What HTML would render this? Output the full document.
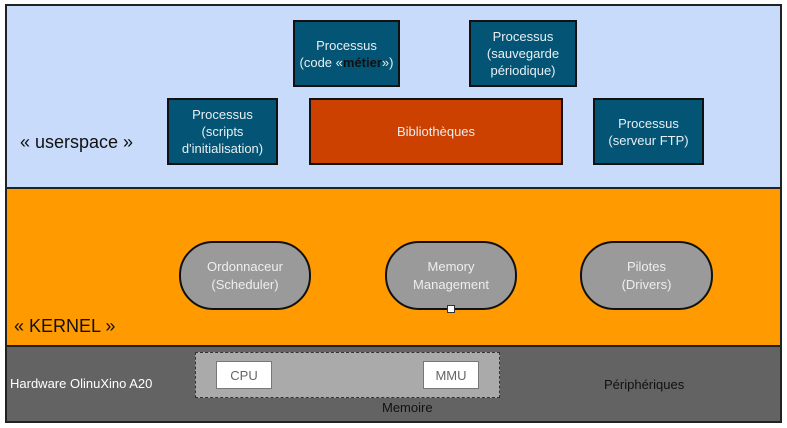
<!DOCTYPE html>
<html><head><meta charset="utf-8"><style>
body{margin:0;width:787px;height:428px;background:#fff;position:relative;overflow:hidden;font-family:"Liberation Sans",sans-serif}
div{position:absolute;box-sizing:border-box}
.band{left:5px;width:777px;border:2px solid #222}
.p{background:#045575;border:2px solid #111;color:#e8eef2;font-size:13px;line-height:17px;text-align:center;display:flex;align-items:center;justify-content:center}
.p span{display:block}
.pill{background:#9a9a9a;border:2px solid #111;border-radius:34px;color:#eee;font-size:13px;line-height:18px;text-align:center;display:flex;align-items:center;justify-content:center;top:241px;height:69px;width:132px}
.w{background:#fff;border:1px solid #777;color:#666;font-size:13px;display:flex;align-items:center;justify-content:center;top:361px;height:28px;width:56px}
</style></head><body>
<div class="band" style="top:4px;height:185px;background:#c9dbfb"></div>
<div class="band" style="top:187px;height:160px;background:#ff9a00"></div>
<div class="band" style="top:345px;height:78px;background:#636363"></div>
<div style="left:20px;top:132px;font-size:18px;color:#111">« userspace »</div>
<div class="p" style="left:293px;top:20px;width:107px;height:67px"><span>Processus<br>(code «<b style="color:#111">métier</b>»)</span></div>
<div class="p" style="left:469px;top:20px;width:108px;height:67px"><span>Processus<br>(sauvegarde<br>périodique)</span></div>
<div class="p" style="left:167px;top:98px;width:111px;height:67px"><span>Processus<br>(scripts<br>d'initialisation)</span></div>
<div class="p" style="left:309px;top:98px;width:254px;height:67px;background:#cc4000"><span>Bibliothèques</span></div>
<div class="p" style="left:593px;top:98px;width:111px;height:67px"><span>Processus<br>(serveur FTP)</span></div>
<div class="pill" style="left:179px"><span>Ordonnaceur<br>(Scheduler)</span></div>
<div class="pill" style="left:385px"><span>Memory<br>Management</span></div>
<div class="pill" style="left:580px;width:133px"><span>Pilotes<br>(Drivers)</span></div>
<div style="left:447px;top:305px;width:8px;height:8px;background:#fff;border:1px solid #333"></div>
<div style="left:14px;top:316px;font-size:18px;color:#111">« KERNEL »</div>
<div style="left:10px;top:376px;font-size:13px;color:#fff">Hardware OlinuXino A20</div>
<div style="left:195px;top:352px;width:305px;height:46px;background:#aaa;border:1px dashed #333"></div>
<div class="w" style="left:216px">CPU</div>
<div class="w" style="left:423px">MMU</div>
<div style="left:382px;top:400px;font-size:13px;color:#111">Memoire</div>
<div style="left:604px;top:377px;font-size:13px;color:#111">Périphériques</div>
</body></html>
